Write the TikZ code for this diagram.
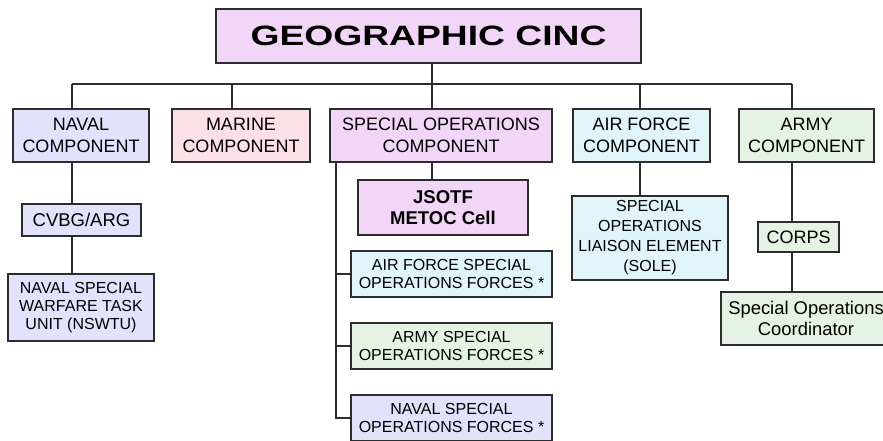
\documentclass[tikz,border=0pt]{standalone}
\usepackage{fontspec}
\usepackage{graphicx}
\setmainfont{Liberation Sans}
\definecolor{pinkc}{RGB}{242,214,248}
\definecolor{navalc}{RGB}{226,226,252}
\definecolor{marinec}{RGB}{252,224,232}
\definecolor{airc}{RGB}{224,244,250}
\definecolor{armyc}{RGB}{228,243,228}
\definecolor{linec}{RGB}{45,45,45}

\begin{document}
\begin{tikzpicture}[x=1pt, y=-1pt,
    box/.style={draw=linec, line width=1.3pt, inner sep=0pt, align=center,
      font=\fontsize{18}{21.7}\selectfont},
    small/.style={font=\fontsize{16}{18.4}\selectfont},
    link/.style={draw=linec, line width=1.3pt}]
  \useasboundingbox (0,0) rectangle (883,440);

  % top
  \node[box, fill=pinkc, minimum width=425, minimum height=54,
    font=\bfseries\fontsize{28}{32}\selectfont] (cinc) at (428.5,36) {\scalebox{1.33}[1]{GEOGRAPHIC CINC}};

  % components
  \node[box, fill=navalc, minimum width=136, minimum height=53] (naval) at (81,135.5) {NAVAL\\COMPONENT};
  \node[box, fill=marinec, minimum width=138, minimum height=53] (marine) at (241,135.5) {MARINE\\COMPONENT};
  \node[box, fill=pinkc, minimum width=222, minimum height=53] (sof) at (441,135.5) {SPECIAL OPERATIONS\\COMPONENT};
  \node[box, fill=airc, minimum width=137, minimum height=53] (air) at (641.5,135.5) {AIR FORCE\\COMPONENT};
  \node[box, fill=armyc, minimum width=135, minimum height=53] (army) at (806.5,135.5) {ARMY\\COMPONENT};

  % naval side
  \node[box, fill=navalc, minimum width=119, minimum height=32,
    font=\fontsize{18.5}{21.7}\selectfont] (cvbg) at (81.5,220) {CVBG/ARG};
  \node[box, small, fill=navalc, minimum width=146, minimum height=67] (nswtu) at (81,307.5) {NAVAL SPECIAL\\WARFARE TASK\\UNIT (NSWTU)};

  % special operations side
  \node[box, fill=pinkc, minimum width=170, minimum height=55,
    font=\bfseries\fontsize{18.5}{21.7}\selectfont] (jsotf) at (443,207.5) {JSOTF\\METOC Cell};
  \node[box, small, fill=airc, minimum width=201, minimum height=46] (afsof) at (451.5,274) {AIR FORCE SPECIAL\\OPERATIONS FORCES *};
  \node[box, small, fill=armyc, minimum width=201, minimum height=46] (arsof) at (451.5,346) {ARMY SPECIAL\\OPERATIONS FORCES *};
  \node[box, small, fill=navalc, minimum width=201, minimum height=46] (navsof) at (451.5,418) {NAVAL SPECIAL\\OPERATIONS FORCES *};

  % air force side
  \node[box, fill=airc, minimum width=156, minimum height=84,
    font=\fontsize{16}{20}\selectfont] (sole) at (650,238) {SPECIAL\\OPERATIONS\\LIAISON ELEMENT\\(SOLE)};

  % army side
  \node[box, fill=armyc, minimum width=81, minimum height=30] (corps) at (798.5,237) {CORPS};
  \node[box, fill=armyc, minimum width=170, minimum height=53,
    font=\fontsize{18.4}{21}\selectfont] (coord) at (806,318.5) {Special Operations\\Coordinator};

  % connectors
  \coordinate (navx) at (72,84);
  \coordinate (marx) at (232,84);
  \coordinate (sofx) at (432,84);
  \coordinate (airx) at (640,84);
  \coordinate (armx) at (792,84);
  \coordinate (rail) at (336,0);

  \draw[link] (sofx |- cinc.south) -- (sofx);
  \draw[link] (navx) -- (armx);
  \foreach \c/\n in {navx/naval, marx/marine, sofx/sof, airx/air, armx/army}
    \draw[link] (\c) -- (\c |- \n.north);

  \draw[link] (navx |- naval.south) -- (navx |- cvbg.north);
  \draw[link] (navx |- cvbg.south) -- (navx |- nswtu.north);

  \draw[link] (sofx |- sof.south) -- (sofx |- jsotf.north);
  \draw[link] (rail |- sof.south) -- (rail |- navsof.west) -- (navsof.west);
  \draw[link] (rail |- afsof.west) -- (afsof.west);
  \draw[link] (rail |- arsof.west) -- (arsof.west);

  \draw[link] (airx |- air.south) -- (airx |- sole.north);

  \draw[link] (armx |- army.south) -- (armx |- corps.north);
  \draw[link] (armx |- corps.south) -- (armx |- coord.north);
\end{tikzpicture}
\end{document}
